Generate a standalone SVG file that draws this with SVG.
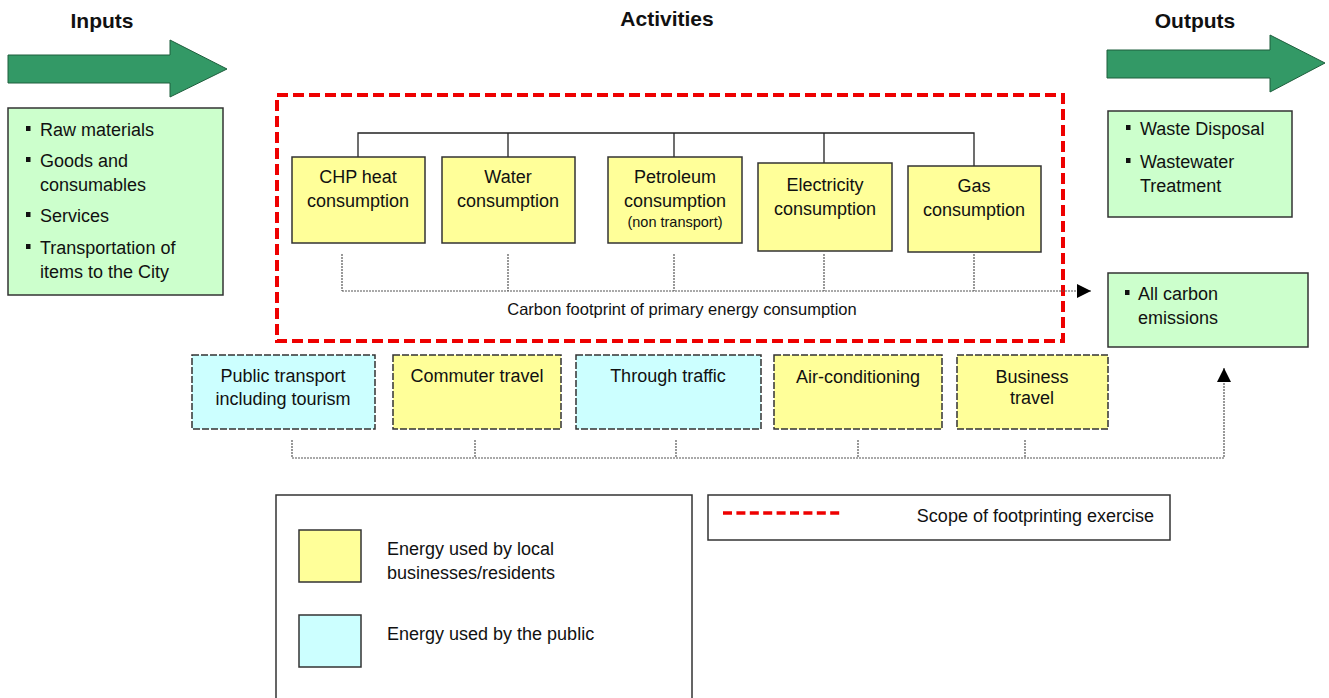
<svg xmlns="http://www.w3.org/2000/svg" width="1329" height="698" viewBox="0 0 1329 698">
  <style>
    text { font-family: "Liberation Sans", Arial, sans-serif; fill: #111; }
    .title { font-size: 21px; font-weight: bold; text-anchor: middle; }
    .lbl { font-size: 18px; text-anchor: middle; }
    .small { font-size: 14.5px; text-anchor: middle; }
    .item { font-size: 18px; }
    .green { fill: #ccffcc; stroke: #333; stroke-width: 1.5; }
    .yellow { fill: #ffff99; stroke: #333; stroke-width: 1.5; }
    .cyan { fill: #ccffff; stroke: #333; stroke-width: 1.5; }
    .dash { stroke-dasharray: 7 2; }
    .arrow { fill: #339966; stroke: #1e5e3c; stroke-width: 1; }
    .bullet { fill: #111; }
    .tree { fill: none; stroke: #222; stroke-width: 1.3; }
    .dot { fill: none; stroke: #555; stroke-width: 1.2; stroke-dasharray: 2 1; }
    .scope { fill: none; stroke: #ee0000; stroke-width: 4; stroke-dasharray: 11 5; }
    .frame { fill: #fff; stroke: #333; stroke-width: 1.5; }
  </style>
  <defs>
    <marker id="tri" viewBox="0 0 10 10" refX="10" refY="5" markerWidth="14" markerHeight="14" markerUnits="userSpaceOnUse" orient="auto">
      <path d="M0,0 L10,5 L0,10 Z" fill="#000"/>
    </marker>
  </defs>

  <rect width="1329" height="698" fill="#fff"/>

  <!-- Column headings -->
  <text class="title" x="102" y="28">Inputs</text>
  <text class="title" x="667" y="26">Activities</text>
  <text class="title" x="1195" y="28">Outputs</text>

  <!-- Big flow arrows -->
  <polygon class="arrow" points="8,55 170,55 170,40 227,69 170,97 170,83 8,83"/>
  <polygon class="arrow" points="1107,50 1270,50 1270,35 1325,63 1270,92 1270,78 1107,78"/>

  <!-- Inputs -->
  <g id="inputs">
    <rect class="green" x="8" y="108" width="215" height="187"/>
    <rect class="bullet" x="26" y="126" width="4.5" height="5"/>
    <text class="item" x="40" y="136">Raw materials</text>
    <rect class="bullet" x="26" y="157" width="4.5" height="5"/>
    <text class="item" x="40" y="167">Goods and</text>
    <text class="item" x="40" y="191">consumables</text>
    <rect class="bullet" x="26" y="212" width="4.5" height="5"/>
    <text class="item" x="40" y="222">Services</text>
    <rect class="bullet" x="26" y="244" width="4.5" height="5"/>
    <text class="item" x="40" y="254">Transportation of</text>
    <text class="item" x="40" y="278">items to the City</text>
  </g>

  <!-- Outputs -->
  <g id="outputs-waste">
    <rect class="green" x="1108" y="111" width="184" height="106"/>
    <rect class="bullet" x="1126" y="125" width="4.5" height="5"/>
    <text class="item" x="1140" y="135">Waste Disposal</text>
    <rect class="bullet" x="1126" y="158" width="4.5" height="5"/>
    <text class="item" x="1140" y="168">Wastewater</text>
    <text class="item" x="1140" y="192">Treatment</text>
  </g>
  <g id="outputs-carbon">
    <rect class="green" x="1108" y="273" width="200" height="74"/>
    <rect class="bullet" x="1125" y="290" width="4.5" height="5"/>
    <text class="item" x="1138" y="300">All carbon</text>
    <text class="item" x="1138" y="324">emissions</text>
  </g>

  <!-- Scope of footprinting exercise -->
  <rect id="scope" class="scope" x="277" y="95" width="786" height="246"/>

  <!-- Connectors -->
  <g id="connectors">
    <path class="tree" d="M358,157 V133 H974 V166 M508,133 V157 M674,133 V157 M824,133 V163"/>
    <path class="dot" d="M342,254 V291 M508,254 V291 M674,254 V291 M824,254 V291 M974,254 V291"/>
    <path class="dot" d="M342,291 H1091" marker-end="url(#tri)"/>
    <path class="dot" d="M292,440 V458 M475,440 V458 M676,440 V458 M858,440 V458 M1025,440 V458"/>
    <path class="dot" d="M292,458 H1224 V368" marker-end="url(#tri)"/>
  </g>
  <text x="682" y="315" font-size="16.5" text-anchor="middle">Carbon footprint of primary energy consumption</text>

  <!-- Primary energy consumption -->
  <g id="chp">
    <rect class="yellow" x="292" y="157" width="133" height="86"/>
    <text class="lbl" x="358" y="183">CHP heat</text>
    <text class="lbl" x="358" y="207">consumption</text>
  </g>
  <g id="water">
    <rect class="yellow" x="442" y="157" width="133" height="86"/>
    <text class="lbl" x="508" y="183">Water</text>
    <text class="lbl" x="508" y="207">consumption</text>
  </g>
  <g id="petroleum">
    <rect class="yellow" x="608" y="157" width="134" height="86"/>
    <text class="lbl" x="675" y="183">Petroleum</text>
    <text class="lbl" x="675" y="207">consumption</text>
    <text class="small" x="675" y="227">(non transport)</text>
  </g>
  <g id="electricity">
    <rect class="yellow" x="758" y="163" width="134" height="88"/>
    <text class="lbl" x="825" y="191">Electricity</text>
    <text class="lbl" x="825" y="215">consumption</text>
  </g>
  <g id="gas">
    <rect class="yellow" x="908" y="166" width="133" height="86"/>
    <text class="lbl" x="974" y="192">Gas</text>
    <text class="lbl" x="974" y="216">consumption</text>
  </g>

  <!-- Transport and other energy use -->
  <g id="public-transport">
    <rect class="cyan dash" x="192" y="355" width="183" height="74"/>
    <text class="lbl" x="283" y="382">Public transport</text>
    <text class="lbl" x="283" y="405">including tourism</text>
  </g>
  <g id="commuter">
    <rect class="yellow dash" x="393" y="355" width="168" height="74"/>
    <text class="lbl" x="477" y="382">Commuter travel</text>
  </g>
  <g id="through-traffic">
    <rect class="cyan dash" x="576" y="355" width="185" height="74"/>
    <text class="lbl" x="668" y="382">Through traffic</text>
  </g>
  <g id="air-conditioning">
    <rect class="yellow dash" x="774" y="355" width="168" height="74"/>
    <text class="lbl" x="858" y="383">Air-conditioning</text>
  </g>
  <g id="business-travel">
    <rect class="yellow dash" x="957" y="355" width="151" height="74"/>
    <text class="lbl" x="1032" y="383">Business</text>
    <text class="lbl" x="1032" y="404">travel</text>
  </g>

  <!-- Key -->
  <g id="key-colours">
    <rect class="frame" x="276" y="495" width="416" height="210"/>
    <rect class="yellow" x="299" y="530" width="62" height="52"/>
    <text class="item" x="387" y="555">Energy used by local</text>
    <text class="item" x="387" y="579">businesses/residents</text>
    <rect class="cyan" x="299" y="615" width="62" height="52"/>
    <text class="item" x="387" y="640">Energy used by the public</text>
  </g>
  <g id="key-scope">
    <rect class="frame" x="708" y="495" width="462" height="45"/>
    <line x1="723" y1="513" x2="843" y2="513" stroke="#ee0000" stroke-width="3.5" stroke-dasharray="9 4.4"/>
    <text class="item" x="1154" y="522" text-anchor="end">Scope of footprinting exercise</text>
  </g>
</svg>
